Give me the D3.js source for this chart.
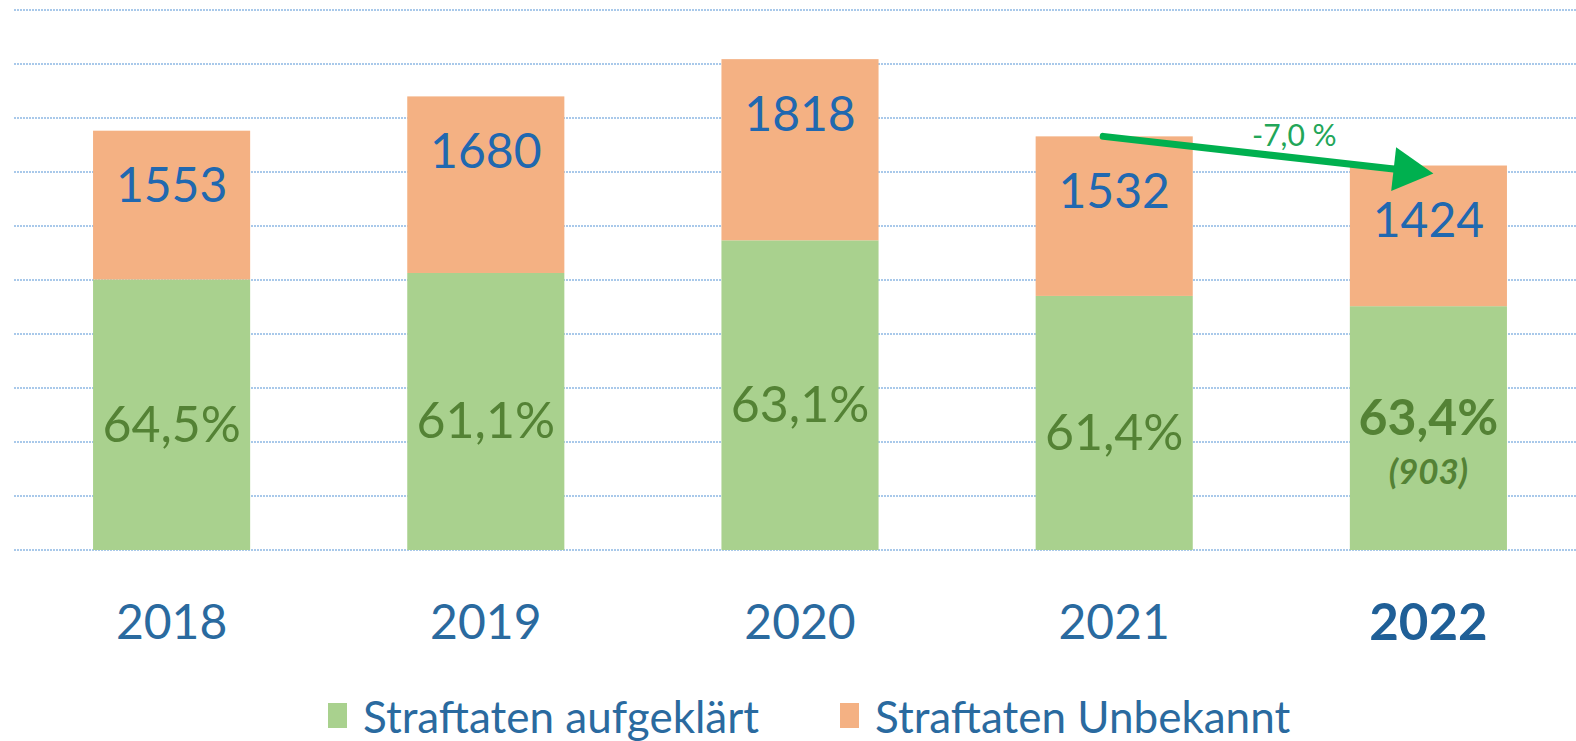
<!DOCTYPE html>
<html>
<head>
<meta charset="utf-8">
<script src="https://cdn.jsdelivr.net/npm/d3@7"></script>
<style>
	body { margin: 0; background: #fff; }
	svg { display: block; font-family: Lato, "Open Sans", sans-serif; }
</style>
</head>
<body>
<div id="chart"></div>
<script>
// Data
let years = ["2018", "2019", "2020", "2021", "2022"];
let totals = [1553, 1680, 1818, 1532, 1424];
let solved = [1002, 1026, 1147, 941, 903];
let solvedPct = ["64,5%", "61,1%", "63,1%", "61,4%", "63,4%"];
let seriesNames = ["Straftaten aufgeklärt", "Straftaten Unbekannt"];
let yTicks = [0, 200, 400, 600, 800, 1000, 1200, 1400, 1600, 1800, 2000];
let changeLabel = "-7,0 %";

let width = 1576, height = 741;
let colors = {solved: "#a9d18e", open: "#f4b183", blue: "#2068b0", axis: "#2a6a9f",
	green: "#548235", arrow: "#00b04f", grid: "#a9c9ea"};

let svg = d3.select("#chart").append("svg")
	.attr("width", width)
	.attr("height", height);

let x = d3.scaleBand()
	.domain(years)
	.range([14.5, 1585.5])
	.paddingInner(0.5)
	.paddingOuter(0.25);

let y = d3.scaleLinear()
	.domain([0, 2000])
	.range([550, 10]);

// gridlines
svg.append("g")
	.selectAll("line")
	.data(yTicks)
	.enter().append("line")
	.attr("x1", 14)
	.attr("x2", width)
	.attr("y1", d => y(d))
	.attr("y2", d => y(d))
	.attr("stroke", colors.grid)
	.attr("stroke-width", 2)
	.attr("stroke-dasharray", "2,1");

let rows = years.map((yr, i) => ({year: yr, total: totals[i], solved: solved[i], pct: solvedPct[i]}));

let bars = svg.append("g").selectAll("g")
	.data(rows)
	.enter().append("g");

bars.append("rect")
	.attr("x", d => x(d.year))
	.attr("width", x.bandwidth())
	.attr("y", d => y(d.solved))
	.attr("height", d => y(0) - y(d.solved))
	.attr("fill", colors.solved);

bars.append("rect")
	.attr("x", d => x(d.year))
	.attr("width", x.bandwidth())
	.attr("y", d => y(d.total))
	.attr("height", d => y(d.solved) - y(d.total))
	.attr("fill", colors.open);

// total labels, near top of the orange part
bars.append("text")
	.attr("x", d => x(d.year) + x.bandwidth() / 2)
	.attr("y", d => y(d.total) + 53)
	.attr("text-anchor", "middle")
	.attr("dominant-baseline", "central")
	.attr("font-size", "48px")
	.attr("fill", colors.blue)
	.text(d => d.total);

// percent labels, middle of green part
bars.append("text")
	.attr("x", d => x(d.year) + x.bandwidth() / 2)
	.attr("y", (d, i) => (y(d.solved) + y(0)) / 2 + (i === years.length - 1 ? -12 : 8))
	.attr("text-anchor", "middle")
	.attr("dominant-baseline", "central")
	.attr("font-size", "50px")
	.attr("font-weight", (d, i) => i === years.length - 1 ? "bold" : "normal")
	.attr("fill", colors.green)
	.text(d => d.pct);

let last = rows[rows.length - 1];
svg.append("text")
	.attr("x", x(last.year) + x.bandwidth() / 2)
	.attr("y", (y(last.solved) + y(0)) / 2 + 42)
	.attr("text-anchor", "middle")
	.attr("dominant-baseline", "central")
	.attr("font-size", "35px")
	.attr("font-style", "italic")
	.attr("font-weight", "bold")
	.attr("fill", colors.green)
	.text("(" + last.solved + ")");

// x axis labels
svg.append("g").selectAll("text")
	.data(years)
	.enter().append("text")
	.attr("x", d => x(d) + x.bandwidth() / 2)
	.attr("y", 620)
	.attr("text-anchor", "middle")
	.attr("dominant-baseline", "central")
	.attr("font-size", (d, i) => i === years.length - 1 ? "51px" : "48px")
	.attr("font-weight", (d, i) => i === years.length - 1 ? "bold" : "normal")
	.attr("fill", (d, i) => i === years.length - 1 ? "#1f5f97" : colors.axis)
	.text(d => d);

// change arrow 2021 -> 2022
let a = rows[3], b = rows[4];
let x0 = x(a.year) + x.bandwidth() / 2 - 11, y0 = y(a.total);
let x1 = x(b.year) + x.bandwidth() / 2 + 5, y1 = y(b.total) + 8;
let ang = Math.atan2(y1 - y0, x1 - x0);
let headLen = 40, headW = 22;
let bx = x1 - headLen * Math.cos(ang), by = y1 - headLen * Math.sin(ang);
svg.append("line")
	.attr("x1", x0).attr("y1", y0)
	.attr("x2", bx).attr("y2", by)
	.attr("stroke", colors.arrow)
	.attr("stroke-width", 7)
	.attr("stroke-linecap", "round");
svg.append("path")
	.attr("d", d3.line()([
		[x1, y1],
		[bx + headW * Math.sin(ang), by - headW * Math.cos(ang)],
		[bx - headW * Math.sin(ang), by + headW * Math.cos(ang)]
	]) + "Z")
	.attr("fill", colors.arrow);
svg.append("text")
	.attr("x", (x0 + x1) / 2 + 26)
	.attr("y", y0 - 2)
	.attr("text-anchor", "middle")
	.attr("dominant-baseline", "central")
	.attr("font-size", "30px")
	.attr("fill", "#22a659")
	.text(changeLabel);

// legend
let legend = svg.append("g").selectAll("g")
	.data(seriesNames)
	.enter().append("g")
	.attr("transform", (d, i) => `translate(${i === 0 ? 328 : 840}, 716)`);
legend.append("rect")
	.attr("x", 0)
	.attr("y", -13)
	.attr("width", 19)
	.attr("height", 25)
	.attr("fill", (d, i) => i === 0 ? colors.solved : colors.open);
legend.append("text")
	.attr("x", 35)
	.attr("y", 0)
	.attr("dominant-baseline", "central")
	.attr("font-size", "44px")
	.attr("fill", colors.axis)
	.text(d => d);
</script>
</body>
</html>
